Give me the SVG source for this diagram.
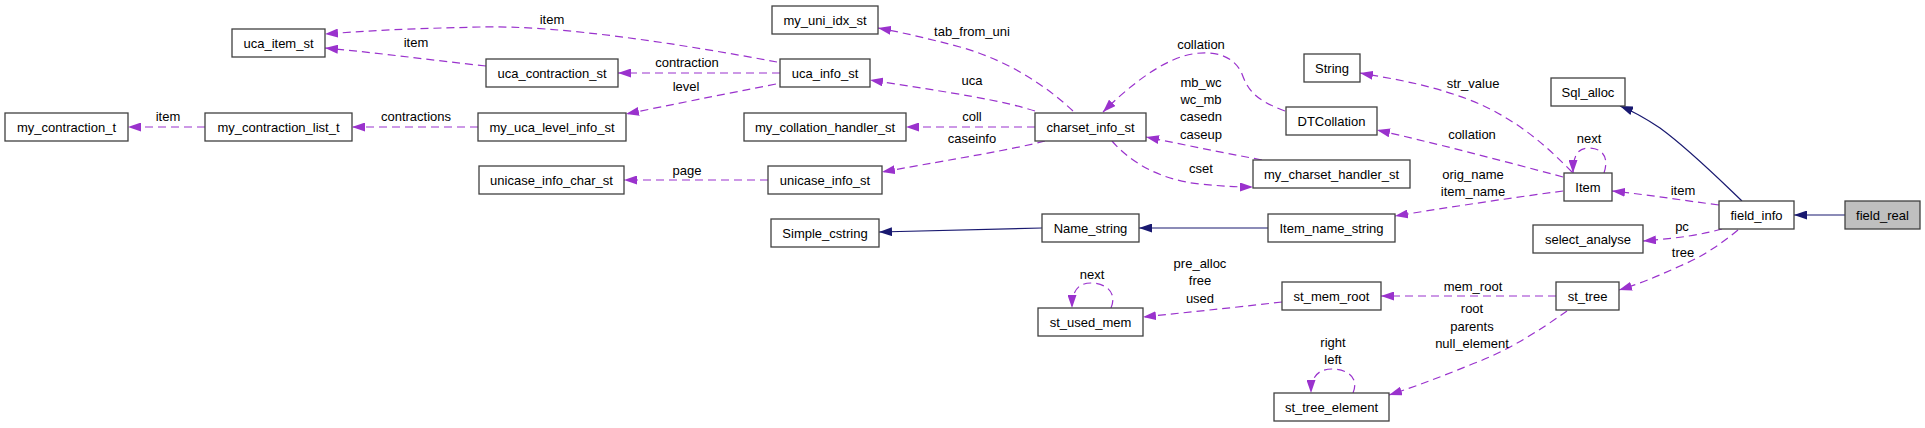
<svg xmlns="http://www.w3.org/2000/svg" width="1925" height="428" viewBox="0 0 1925 428">
<style>
.n rect{fill:#fff;stroke:#404040;stroke-width:1.3}
.n.hl rect{fill:#bfbfbf}
text{font-family:"Liberation Sans",Arial,sans-serif;font-size:13px;fill:#000;text-anchor:middle}
.e{fill:none;stroke:#9a32cd;stroke-width:1.2;stroke-dasharray:8,5}
.i{fill:none;stroke:#191970;stroke-width:1.2}
</style>
<defs>
<marker id="ap" viewBox="0 0 13 9" refX="13" refY="4.5" markerWidth="13" markerHeight="9" orient="auto" markerUnits="userSpaceOnUse"><path d="M0,0L13,4.5L0,9z" fill="#9a32cd"/></marker>
<marker id="ab" viewBox="0 0 13 9" refX="13" refY="4.5" markerWidth="13" markerHeight="9" orient="auto" markerUnits="userSpaceOnUse"><path d="M0,0L13,4.5L0,9z" fill="#191970"/></marker>
</defs>
<rect width="1925" height="428" fill="#fff"/>
<g id="edges">
<path class="e" marker-end="url(#ap)" d="M777,62 C680,44 560,25 480,27 S380,30 325,34"/>
<text x="552" y="24">item</text>
<path class="e" marker-end="url(#ap)" d="M486,66 C430,60 380,53 325,48"/>
<text x="416" y="47">item</text>
<path class="e" marker-end="url(#ap)" d="M780,73 L618,73"/>
<text x="687" y="67">contraction</text>
<path class="e" marker-end="url(#ap)" d="M776,84 C720,95 670,105 626,114"/>
<text x="686" y="91">level</text>
<path class="e" marker-end="url(#ap)" d="M1073,111 C1040,80 1000,58 960,47 C930,39 905,33 878,28"/>
<text x="972" y="36">tab_from_uni</text>
<path class="e" marker-end="url(#ap)" d="M1035,111 C1000,100 960,94 870,80"/>
<text x="972" y="85">uca</text>
<path class="e" marker-end="url(#ap)" d="M1035,127 L906,127"/>
<text x="972" y="121">coll</text>
<path class="e" marker-end="url(#ap)" d="M1045,141 C1010,150 960,158 882,172"/>
<text x="972" y="143">caseinfo</text>
<path class="e" marker-end="url(#ap)" d="M768,180 L624,180"/>
<text x="687" y="175">page</text>
<path class="e" marker-end="url(#ap)" d="M205,127 L128,127"/>
<text x="168" y="121">item</text>
<path class="e" marker-end="url(#ap)" d="M478,127 L352,127"/>
<text x="416" y="121">contractions</text>
<path class="e" marker-end="url(#ap)" d="M1285,111 C1255,100 1248,90 1242,74 C1232,50 1200,48 1173,60 C1150,70 1125,90 1103,112"/>
<text x="1201" y="49">collation</text>
<path class="e" marker-end="url(#ap)" d="M1262,160 C1220,152 1185,145 1146,137"/>
<text x="1201" y="87">mb_wc</text>
<text x="1201" y="104">wc_mb</text>
<text x="1201" y="121">casedn</text>
<text x="1201" y="139">caseup</text>
<path class="e" marker-end="url(#ap)" d="M1112,141 C1130,162 1160,180 1200,184 C1220,186 1235,187 1253,187"/>
<text x="1201" y="173">cset</text>
<path class="e" marker-end="url(#ap)" d="M1572,172 C1550,150 1520,120 1470,100 C1430,85 1400,80 1360,73"/>
<text x="1473" y="88">str_value</text>
<path class="e" marker-end="url(#ap)" d="M1563,177 C1500,160 1430,142 1377,130"/>
<text x="1472" y="139">collation</text>
<path class="e" marker-end="url(#ap)" d="M1604,173 C1610,155 1600,148 1589,148 C1578,148 1573,155 1573,173"/>
<text x="1589" y="143">next</text>
<path class="e" marker-end="url(#ap)" d="M1563,191 C1510,198 1450,207 1395,216"/>
<text x="1473" y="179">orig_name</text>
<text x="1473" y="196">item_name</text>
<path class="i" marker-end="url(#ab)" d="M1042,228 L879,232"/>
<path class="i" marker-end="url(#ab)" d="M1268,228 L1139,228"/>
<path class="i" marker-end="url(#ab)" d="M1742,201 C1720,180 1690,150 1660,128 C1645,118 1635,112 1620,106"/>
<path class="i" marker-end="url(#ab)" d="M1845,215 L1794,215"/>
<path class="e" marker-end="url(#ap)" d="M1719,205 C1680,200 1650,195 1612,191"/>
<text x="1683" y="195">item</text>
<path class="e" marker-end="url(#ap)" d="M1722,229 C1700,235 1680,238 1643,241"/>
<text x="1682" y="231">pc</text>
<path class="e" marker-end="url(#ap)" d="M1738,230 C1720,245 1700,258 1680,266 C1660,275 1645,282 1619,290"/>
<text x="1683" y="257">tree</text>
<path class="e" marker-end="url(#ap)" d="M1556,296 L1381,296"/>
<text x="1473" y="291">mem_root</text>
<path class="e" marker-end="url(#ap)" d="M1567,311 C1540,330 1510,350 1470,365 C1440,377 1420,385 1389,395"/>
<text x="1472" y="313">root</text>
<text x="1472" y="331">parents</text>
<text x="1472" y="348">null_element</text>
<path class="e" marker-end="url(#ap)" d="M1353,393 C1360,376 1345,369 1332,369 C1318,369 1311,377 1311,393"/>
<text x="1333" y="347">right</text>
<text x="1333" y="364">left</text>
<path class="e" marker-end="url(#ap)" d="M1282,302 C1230,308 1190,312 1143,317"/>
<text x="1200" y="268">pre_alloc</text>
<text x="1200" y="285">free</text>
<text x="1200" y="303">used</text>
<path class="e" marker-end="url(#ap)" d="M1111,308 C1118,291 1104,283 1091,283 C1078,283 1072,291 1072,308"/>
<text x="1092" y="279">next</text>
</g>
<g id="uca_item_st" class="n"><rect x="232" y="29" width="93" height="28"/><text x="278.5" y="47.5">uca_item_st</text></g>
<g id="my_contraction_t" class="n"><rect x="5" y="113" width="123" height="28"/><text x="66.5" y="131.5">my_contraction_t</text></g>
<g id="my_contraction_list_t" class="n"><rect x="205" y="113" width="147" height="28"/><text x="278.5" y="131.5">my_contraction_list_t</text></g>
<g id="uca_contraction_st" class="n"><rect x="486" y="59" width="132" height="28"/><text x="552" y="77.5">uca_contraction_st</text></g>
<g id="my_uca_level_info_st" class="n"><rect x="478" y="113" width="148" height="28"/><text x="552" y="131.5">my_uca_level_info_st</text></g>
<g id="unicase_info_char_st" class="n"><rect x="479" y="166" width="145" height="28"/><text x="551.5" y="184.5">unicase_info_char_st</text></g>
<g id="my_uni_idx_st" class="n"><rect x="772" y="6" width="106" height="28"/><text x="825" y="24.5">my_uni_idx_st</text></g>
<g id="uca_info_st" class="n"><rect x="780" y="59" width="90" height="28"/><text x="825" y="77.5">uca_info_st</text></g>
<g id="my_collation_handler_st" class="n"><rect x="744" y="113" width="162" height="28"/><text x="825" y="131.5">my_collation_handler_st</text></g>
<g id="unicase_info_st" class="n"><rect x="768" y="166" width="114" height="28"/><text x="825" y="184.5">unicase_info_st</text></g>
<g id="Simple_cstring" class="n"><rect x="771" y="219" width="108" height="28"/><text x="825" y="237.5">Simple_cstring</text></g>
<g id="charset_info_st" class="n"><rect x="1035" y="113" width="111" height="28"/><text x="1090.5" y="131.5">charset_info_st</text></g>
<g id="Name_string" class="n"><rect x="1042" y="214" width="97" height="28"/><text x="1090.5" y="232.5">Name_string</text></g>
<g id="st_used_mem" class="n"><rect x="1038" y="308" width="105" height="28"/><text x="1090.5" y="326.5">st_used_mem</text></g>
<g id="String" class="n"><rect x="1304" y="54" width="56" height="28"/><text x="1332" y="72.5">String</text></g>
<g id="DTCollation" class="n"><rect x="1286" y="107" width="91" height="28"/><text x="1331.5" y="125.5">DTCollation</text></g>
<g id="my_charset_handler_st" class="n"><rect x="1253" y="160" width="157" height="28"/><text x="1331.5" y="178.5">my_charset_handler_st</text></g>
<g id="Item_name_string" class="n"><rect x="1268" y="214" width="127" height="28"/><text x="1331.5" y="232.5">Item_name_string</text></g>
<g id="st_mem_root" class="n"><rect x="1282" y="282" width="99" height="28"/><text x="1331.5" y="300.5">st_mem_root</text></g>
<g id="st_tree_element" class="n"><rect x="1274" y="393" width="115" height="28"/><text x="1331.5" y="411.5">st_tree_element</text></g>
<g id="Sql_alloc" class="n"><rect x="1551" y="78" width="74" height="28"/><text x="1588" y="96.5">Sql_alloc</text></g>
<g id="Item" class="n"><rect x="1564" y="173" width="48" height="28"/><text x="1588" y="191.5">Item</text></g>
<g id="select_analyse" class="n"><rect x="1533" y="225" width="110" height="28"/><text x="1588" y="243.5">select_analyse</text></g>
<g id="st_tree" class="n"><rect x="1556" y="282" width="63" height="28"/><text x="1587.5" y="300.5">st_tree</text></g>
<g id="field_info" class="n"><rect x="1719" y="201" width="75" height="28"/><text x="1756.5" y="219.5">field_info</text></g>
<g id="field_real" class="n hl"><rect x="1845" y="201" width="75" height="28"/><text x="1882.5" y="219.5">field_real</text></g>
</svg>
